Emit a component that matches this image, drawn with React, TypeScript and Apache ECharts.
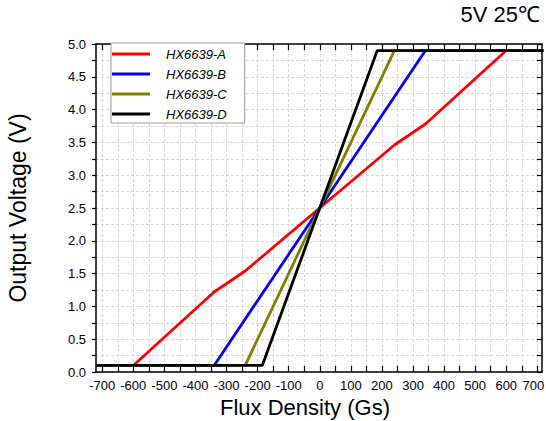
import React, { useEffect, useRef } from "react";
import * as echarts from "echarts";

const seriesNames = ["HX6639-A", "HX6639-B", "HX6639-C", "HX6639-D"];
const seriesColors = ["#ff0000", "#0000ff", "#808000", "#000000"];

const fluxA = [-720, -600, -340, -240, 0, 240, 340, 600, 720];
const voltA = [0.1, 0.1, 1.22, 1.54, 2.5, 3.46, 3.78, 4.9, 4.9];
const fluxB = [-720, -340, 340, 720];
const voltB = [0.1, 0.1, 4.9, 4.9];
const fluxC = [-720, -240, 240, 720];
const voltC = [0.1, 0.1, 4.9, 4.9];
const fluxD = [-720, -185, 185, 720];
const voltD = [0.1, 0.1, 4.9, 4.9];

const xLabelValues = [-700, -600, -500, -400, -300, -200, -100, 0, 100, 200, 300, 400, 500, 600, 700];
const xTickValues = [
  -700, -650, -600, -550, -500, -450, -400, -350, -300, -250, -200, -150, -100, -50, 0,
  50, 100, 150, 200, 250, 300, 350, 400, 450, 500, 550, 600, 650, 700,
];

const FONT = 'Arial, "Liberation Sans", sans-serif';

function pairs(xs: number[], ys: number[]) {
  return xs.map((x, i) => [x, ys[i]]);
}

export default function App() {
  const ref = useRef<HTMLDivElement>(null);
  useEffect(() => {
    if (!ref.current) return;
    const chart = echarts.init(ref.current, null, { renderer: "svg" });
    const grid = { left: 96, right: 4, top: 44, bottom: 49, containLabel: false, outerBoundsMode: "none" };
    const gridLine = { show: true, lineStyle: { color: "#d6d6d6", type: [3, 2] as any, width: 1 } };
    const allData = [pairs(fluxA, voltA), pairs(fluxB, voltB), pairs(fluxC, voltC), pairs(fluxD, voltD)];
    const lastLabel = xLabelValues[xLabelValues.length - 1];
    chart.setOption({
      animation: false,
      backgroundColor: "#ffffff",
      title: {
        text: "5V 25℃",
        right: 6,
        top: 3,
        padding: 0,
        textStyle: { fontSize: 22, fontWeight: "normal", color: "#000", fontFamily: FONT },
      },
      legend: {
        orient: "vertical",
        left: 111,
        top: 43,
        padding: [4, 18, 2, 1],
        itemGap: 6,
        itemWidth: 38,
        itemHeight: 3,
        icon: "rect",
        borderColor: "#999",
        borderWidth: 1,
        backgroundColor: "#fff",
        data: seriesNames,
        textStyle: {
          fontSize: 13,
          lineHeight: 14,
          fontStyle: "italic",
          color: "#000",
          fontFamily: FONT,
          padding: [0, 0, 0, 11],
        },
      },
      grid,
      xAxis: [
        {
          type: "value",
          position: "bottom",
          min: -720,
          max: 715,
          name: "Flux Density (Gs)",
          nameLocation: "middle",
          nameGap: 16,
          nameTextStyle: { fontSize: 22, color: "#000", fontFamily: FONT, padding: [0, 28, 0, 0] },
          axisLine: { show: true, onZero: false, lineStyle: { color: "#000", width: 1.5 } },
          axisTick: { show: true, inside: true, length: 6, customValues: xTickValues, lineStyle: { color: "#000", width: 1.2 } },
          axisLabel: {
            customValues: xLabelValues,
            fontSize: 13,
            color: "#000",
            fontFamily: FONT,
            margin: 7,
            formatter: (v: number) => (v === lastLabel ? `{r|${v}}` : `${v}`),
            rich: { r: { fontSize: 13, color: "#000", fontFamily: FONT, padding: [0, 8, 0, 0] } },
          },
          splitLine: gridLine,
        },
        {
          type: "value",
          position: "top",
          min: -720,
          max: 715,
          axisLine: { show: true, onZero: false, lineStyle: { color: "#000", width: 1.5 } },
          axisTick: { show: true, inside: true, length: 6, customValues: xTickValues, lineStyle: { color: "#000", width: 1.2 } },
          axisLabel: { show: false },
          splitLine: { show: false },
        },
      ],
      yAxis: [
        {
          type: "value",
          position: "left",
          min: 0,
          max: 5,
          interval: 0.25,
          name: "Output Voltage (V)",
          nameLocation: "middle",
          nameGap: 67,
          nameTextStyle: { fontSize: 23, color: "#000", fontFamily: FONT },
          axisLine: { show: true, onZero: false, lineStyle: { color: "#000", width: 1.5 } },
          axisTick: { show: true, inside: false, length: 4, lineStyle: { color: "#000", width: 1.2 } },
          axisLabel: {
            fontSize: 13,
            color: "#000",
            fontFamily: FONT,
            margin: 10,
            formatter: (v: number) => (Math.abs(v * 2 - Math.round(v * 2)) < 1e-6 ? v.toFixed(1) : ""),
          },
          splitLine: gridLine,
        },
        {
          type: "value",
          position: "right",
          min: 0,
          max: 5,
          interval: 0.25,
          axisLine: { show: true, onZero: false, lineStyle: { color: "#000", width: 1.5 } },
          axisTick: { show: true, inside: true, length: 5, lineStyle: { color: "#000", width: 1.2 } },
          axisLabel: { show: false },
          splitLine: { show: false },
        },
      ],
      series: seriesNames.map((name, i) => ({
        name,
        type: "line",
        xAxisIndex: 0,
        yAxisIndex: 0,
        symbol: "none",
        color: seriesColors[i],
        lineStyle: { width: 2.8, color: seriesColors[i] },
        data: allData[i],
        z: 2 + i,
      })),
    });
    return () => chart.dispose();
  }, []);
  return (
    <div
      ref={ref}
      style={{ position: "absolute", left: 0, top: 0, width: 546, height: 421 }}
    />
  );
}
